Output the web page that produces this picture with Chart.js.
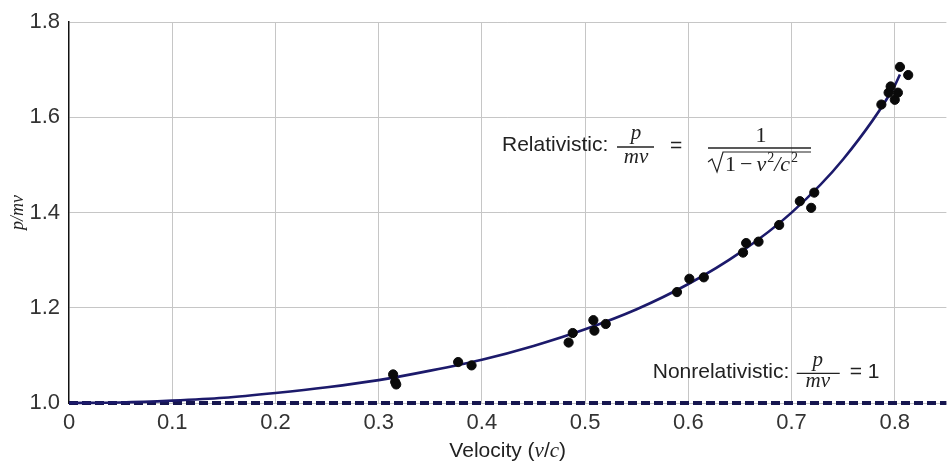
<!DOCTYPE html>
<html><head><meta charset="utf-8">
<script src="https://cdn.jsdelivr.net/npm/chart.js@4.4.1/dist/chart.umd.min.js"></script>
<style>html,body{margin:0;padding:0;background:#fff}canvas{display:block}</style>
</head><body>
<canvas id="c" width="952" height="469"></canvas>
<script>
// ---- data ----
const xTickLabels = ['0','0.1','0.2','0.3','0.4','0.5','0.6','0.7','0.8'];
const yTickLabels = ['1.0','1.2','1.4','1.6','1.8'];
// relativistic curve
const curveV = [0, 0.05, 0.1, 0.15, 0.2, 0.25, 0.3, 0.35, 0.4, 0.45, 0.5, 0.55, 0.6, 0.65, 0.7, 0.75, 0.8, 0.805];
const curveP = [1.0, 1.001, 1.005, 1.011, 1.021, 1.033, 1.048, 1.068, 1.091, 1.12, 1.155, 1.197, 1.25, 1.316, 1.4, 1.512, 1.667, 1.69];
// measured points
const measV = [0.314,0.316,0.317,0.377,0.390,0.484,0.488,0.508,0.509,0.520,0.589,0.601,0.615,0.653,0.656,0.668,0.688,0.708,0.719,0.722,0.787,0.794,0.796,0.800,0.803,0.805,0.813];
const measP = [1.060,1.044,1.039,1.086,1.079,1.127,1.147,1.174,1.152,1.166,1.233,1.261,1.264,1.316,1.336,1.339,1.374,1.424,1.410,1.442,1.627,1.652,1.665,1.637,1.652,1.706,1.689];
// nonrelativistic line
const nonRelV = [0, 0.85];
const nonRelP = [1, 1];

const toXY = (xs, ys) => xs.map((x, i) => ({x, y: ys[i]}));

const SANS = '"Liberation Sans", Arial, sans-serif';
const SERIF = '"Liberation Serif", "Times New Roman", serif';

function runs(ctx, x, y, parts) {
  let cx = x;
  for (const p of parts) {
    ctx.font = p.f;
    ctx.fillText(p.t, cx, y + (p.dy || 0));
    cx += ctx.measureText(p.t).width + (p.gap || 0);
  }
  return cx;
}
function runsWidth(ctx, parts) {
  let w = 0;
  for (const p of parts) { ctx.font = p.f; w += ctx.measureText(p.t).width + (p.gap || 0); }
  return w;
}

const annot = {
  id: 'annot',
  afterDraw(chart) {
    const ctx = chart.ctx;
    const xs = chart.scales.x, ys = chart.scales.y;
    ctx.save();
    ctx.fillStyle = '#222';
    ctx.strokeStyle = '#222';
    ctx.textBaseline = 'alphabetic';
    const it = 'italic 21px ' + SERIF;
    // Relativistic formula
    let x0 = xs.getPixelForValue(0.4195), y0 = ys.getPixelForValue(1.542);
    ctx.font = '21px ' + SANS; ctx.textAlign = 'left'; ctx.textBaseline = 'middle';
    ctx.fillText('Relativistic:', x0, y0);
    ctx.textBaseline = 'alphabetic'; ctx.textAlign = 'center';
    ctx.font = it;
    ctx.fillText('p', x0 + 134, y0 - 6);
    ctx.fillText('mv', x0 + 134, y0 + 18);
    ctx.lineWidth = 1.3;
    ctx.beginPath(); ctx.moveTo(x0 + 115, y0 + 2); ctx.lineTo(x0 + 152, y0 + 2); ctx.stroke();
    ctx.font = '21px ' + SANS;
    ctx.textBaseline = 'middle';
    ctx.fillText('=', x0 + 174, y0 + 1);
    ctx.textBaseline = 'alphabetic';
    ctx.font = '22px ' + SERIF;
    ctx.fillText('1', x0 + 259, y0 - 3);
    ctx.beginPath(); ctx.moveTo(x0 + 206, y0 + 3); ctx.lineTo(x0 + 309, y0 + 3); ctx.stroke();
    // radical
    ctx.lineWidth = 1.2;
    ctx.beginPath();
    ctx.moveTo(x0 + 206, y0 + 17); ctx.lineTo(x0 + 210, y0 + 14);
    ctx.lineTo(x0 + 215, y0 + 27); ctx.lineTo(x0 + 221, y0 + 7); ctx.lineTo(x0 + 309, y0 + 7);
    ctx.stroke();
    ctx.textAlign = 'left';
    runs(ctx, x0 + 223, y0 + 26, [
      {t: '1', f: '22px ' + SERIF, gap: 4},
      {t: '\u2212', f: '22px ' + SERIF, gap: 4},
      {t: 'v', f: 'italic 22px ' + SERIF, gap: 1},
      {t: '2', f: '14px ' + SERIF, dy: -9, gap: 0},
      {t: '/', f: 'italic 22px ' + SERIF, gap: 0},
      {t: 'c', f: 'italic 22px ' + SERIF, gap: 1},
      {t: '2', f: '14px ' + SERIF, dy: -9}
    ]);

    // Nonrelativistic formula
    x0 = xs.getPixelForValue(0.5655); y0 = ys.getPixelForValue(1.0645);
    ctx.font = '21px ' + SANS; ctx.textAlign = 'left'; ctx.textBaseline = 'middle';
    ctx.fillText('Nonrelativistic:', x0, y0);
    ctx.textBaseline = 'alphabetic'; ctx.textAlign = 'center';
    ctx.font = it;
    ctx.fillText('p', x0 + 165, y0 - 6);
    ctx.fillText('mv', x0 + 165, y0 + 15);
    ctx.lineWidth = 1.3;
    ctx.beginPath(); ctx.moveTo(x0 + 144, y0 + 1); ctx.lineTo(x0 + 187, y0 + 1); ctx.stroke();
    ctx.font = '21px ' + SANS; ctx.textAlign = 'left'; ctx.textBaseline = 'middle';
    ctx.fillText('= 1', x0 + 197, y0);

    // x axis title with italic v/c
    const parts = [
      {t: 'Velocity (', f: '21px ' + SANS},
      {t: 'v', f: 'italic 21px ' + SERIF},
      {t: '/', f: '21px ' + SANS},
      {t: 'c', f: 'italic 21px ' + SERIF},
      {t: ')', f: '21px ' + SANS}
    ];
    const w = runsWidth(ctx, parts);
    const cx = (chart.chartArea.left + chart.chartArea.right) / 2;
    ctx.textAlign = 'left'; ctx.textBaseline = 'middle';
    runs(ctx, cx - w / 2, 451, parts);
    ctx.restore();
  }
};

new Chart(document.getElementById('c'), {
  type: 'scatter',
  data: {
    datasets: [
      {
        label: 'Nonrelativistic',
        type: 'line',
        data: toXY(nonRelV, nonRelP),
        borderColor: '#16164f',
        borderWidth: 4,
        borderDash: [9, 4],
        pointRadius: 0,
        clip: false,
        order: 3
      },
      {
        label: 'Relativistic',
        type: 'line',
        data: toXY(curveV, curveP),
        borderColor: '#1c1a6b',
        borderWidth: 2.6,
        pointRadius: 0,
        cubicInterpolationMode: 'monotone',
        clip: false,
        order: 2
      },
      {
        label: 'Measured',
        data: toXY(measV, measP),
        backgroundColor: '#0a0a0a',
        borderColor: '#0a0a0a',
        pointRadius: 4.6,
        pointHoverRadius: 4.6,
        order: 1
      }
    ]
  },
  options: {
    responsive: false,
    animation: false,
    devicePixelRatio: 1,
    layout: {padding: {top: 18, right: 0, left: 0, bottom: 0}},
    plugins: {legend: {display: false}, tooltip: {enabled: false}},
    scales: {
      x: {
        type: 'linear', min: 0, max: 0.85,
        afterFit: s => { s.height = 66; },
        border: {display: false},
        grid: {
          color: c => (c.tick && c.tick.value === 0) ? 'rgba(0,0,0,0)' : '#c6c6c6',
          lineWidth: 1, drawTicks: false
        },
        ticks: {
          stepSize: 0.1, includeBounds: false, padding: 7,
          color: '#333', font: {family: SANS, size: 22},
          callback: v => xTickLabels[Math.round(v * 10)] ?? ''
        },
        title: {display: false}
      },
      y: {
        type: 'linear', min: 1.0, max: 1.8,
        afterFit: s => { s.width = 69; },
        border: {display: true, color: '#111', width: 1.5},
        grid: {color: '#c6c6c6', lineWidth: 1, drawTicks: false},
        ticks: {
          stepSize: 0.2, padding: 9,
          color: '#333', font: {family: SANS, size: 22},
          callback: v => yTickLabels[Math.round((v - 1) * 5)] ?? ''
        },
        title: {
          display: true, text: 'p/mv', color: '#222',
          font: {family: SERIF, size: 18, style: 'italic'},
          padding: {top: 7, bottom: 0}
        }
      }
    }
  },
  plugins: [annot]
});
</script>
</body></html>
